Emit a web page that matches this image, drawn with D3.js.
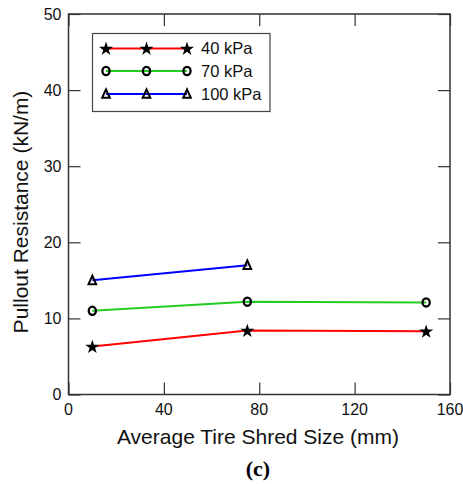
<!DOCTYPE html>
<html>
<head>
<meta charset="utf-8">
<script src="https://cdn.jsdelivr.net/npm/d3@7"></script>
<style>
  html, body { margin: 0; padding: 0; background: #fff; }
  svg { display: block; font-family: "Liberation Sans", Arial, Helvetica, sans-serif; }
</style>
</head>
<body>
<svg id="chart" width="463" height="484"></svg>
<script>
// Average tire shred size (mm)
const shredSizes = [10, 75, 150];
// Pullout resistance (kN/m) at each normal pressure
const pullout40 = [6.3, 8.4, 8.3];
const pullout70 = [11.0, 12.2, 12.1];
const pullout100 = [15.0, 17.0];
const seriesNames = ["40 kPa", "70 kPa", "100 kPa"];
const xTicks = [0, 40, 80, 120, 160];
const yTicks = [0, 10, 20, 30, 40, 50];

const series = [
  { name: seriesNames[0], values: pullout40, color: "#ff0000", marker: "star" },
  { name: seriesNames[1], values: pullout70, color: "#22cc22", marker: "circle" },
  { name: seriesNames[2], values: pullout100, color: "#0000ff", marker: "triangle" }
];

const svg = d3.select("#chart");
const plotLeft = 68.5, plotRight = 450, plotTop = 14, plotBottom = 394.5;

const x = d3.scaleLinear().domain([0, 160]).range([plotLeft, plotRight]);
const y = d3.scaleLinear().domain([0, 50]).range([plotBottom, plotTop]);

const axisColor = "#333";

// Inward ticks on all four sides: major and minor
function tickAxis(axisFn, scale, major, minor, transform, size) {
  const g = svg.append("g").attr("transform", transform);
  g.call(axisFn(scale).tickValues(minor).tickSize(size / 2).tickFormat(""));
  g.call(axisFn(scale).tickValues(major).tickSize(size).tickFormat(""));
  g.selectAll(".domain").remove();
  g.selectAll("line").attr("stroke", axisColor).attr("stroke-width", 1.2);
  return g;
}
const xMinor = d3.range(0, 161, 10);
const yMinor = d3.range(0, 50.01, 2.5);
tickAxis(d3.axisTop, x, xTicks, xMinor, `translate(0,${plotBottom})`, 12);
tickAxis(d3.axisBottom, x, xTicks, xMinor, `translate(0,${plotTop})`, 12);
tickAxis(d3.axisRight, y, yTicks, yMinor, `translate(${plotLeft},0)`, 12);
tickAxis(d3.axisLeft, y, yTicks, yMinor, `translate(${plotRight},0)`, 12);

// Frame
svg.append("rect")
  .attr("x", plotLeft).attr("y", plotTop)
  .attr("width", plotRight - plotLeft).attr("height", plotBottom - plotTop)
  .attr("fill", "none").attr("stroke", axisColor).attr("stroke-width", 1.5);

// Tick labels
svg.append("g").selectAll("text").data(xTicks).join("text")
  .attr("x", d => x(d)).attr("y", plotBottom + 20)
  .attr("text-anchor", "middle").attr("font-size", 16).attr("fill", "#111")
  .text(d => d);
svg.append("g").selectAll("text").data(yTicks).join("text")
  .attr("x", plotLeft - 7).attr("y", d => y(d) + 5.5)
  .attr("text-anchor", "end").attr("font-size", 16).attr("fill", "#111")
  .text(d => d);

// Axis titles
svg.append("text")
  .attr("x", 258).attr("y", 444)
  .attr("text-anchor", "middle").attr("font-size", 21).attr("fill", "#111")
  .text("Average Tire Shred Size (mm)");
svg.append("text")
  .attr("transform", `translate(28,212) rotate(-90)`)
  .attr("text-anchor", "middle").attr("font-size", 21).attr("fill", "#111")
  .text("Pullout Resistance (kN/m)");
svg.append("text")
  .attr("x", 258).attr("y", 476)
  .attr("text-anchor", "middle").attr("font-size", 22).attr("font-weight", "bold")
  .attr("font-family", "'Liberation Serif', 'Times New Roman', serif").attr("fill", "#000")
  .text("(c)");

// Marker drawing
function drawMarker(g, type, cx, cy) {
  if (type === "star") {
    g.append("path")
      .attr("d", d3.symbol().type(d3.symbolStar).size(62)())
      .attr("transform", `translate(${cx},${cy + 0.5})`)
      .attr("fill", "#000");
  } else if (type === "circle") {
    g.append("ellipse")
      .attr("cx", cx).attr("cy", cy).attr("rx", 3.6).attr("ry", 4.1)
      .attr("fill", "none").attr("stroke", "#000").attr("stroke-width", 2.3);
  } else {
    g.append("path")
      .attr("d", `M0,-4.6L3.8,3.8L-3.8,3.8Z`)
      .attr("transform", `translate(${cx},${cy})`)
      .attr("fill", "none").attr("stroke", "#000").attr("stroke-width", 2)
      .attr("stroke-linejoin", "miter");
  }
}

// Data lines and markers
const line = d3.line().x((d, i) => x(shredSizes[i])).y(d => y(d));
series.forEach(s => {
  svg.append("path")
    .datum(s.values)
    .attr("d", line)
    .attr("fill", "none").attr("stroke", s.color).attr("stroke-width", 2);
  const g = svg.append("g");
  s.values.forEach((v, i) => drawMarker(g, s.marker, x(shredSizes[i]), y(v)));
});

// Legend
const legend = svg.append("g");
legend.append("rect")
  .attr("x", 92.5).attr("y", 33.5).attr("width", 177.5).attr("height", 78)
  .attr("fill", "#fff").attr("stroke", "#444").attr("stroke-width", 1.2);
const rowY = [48.5, 71, 94];
const sampleX = [106, 146.5, 187];
series.forEach((s, i) => {
  legend.append("line")
    .attr("x1", sampleX[0]).attr("x2", sampleX[2])
    .attr("y1", rowY[i]).attr("y2", rowY[i])
    .attr("stroke", s.color).attr("stroke-width", 2);
  sampleX.forEach(sx => drawMarker(legend, s.marker, sx, rowY[i]));
  legend.append("text")
    .attr("x", 201).attr("y", rowY[i] + 5.5)
    .attr("font-size", 16.5).attr("fill", "#111")
    .text(s.name);
});
</script>
</body>
</html>
